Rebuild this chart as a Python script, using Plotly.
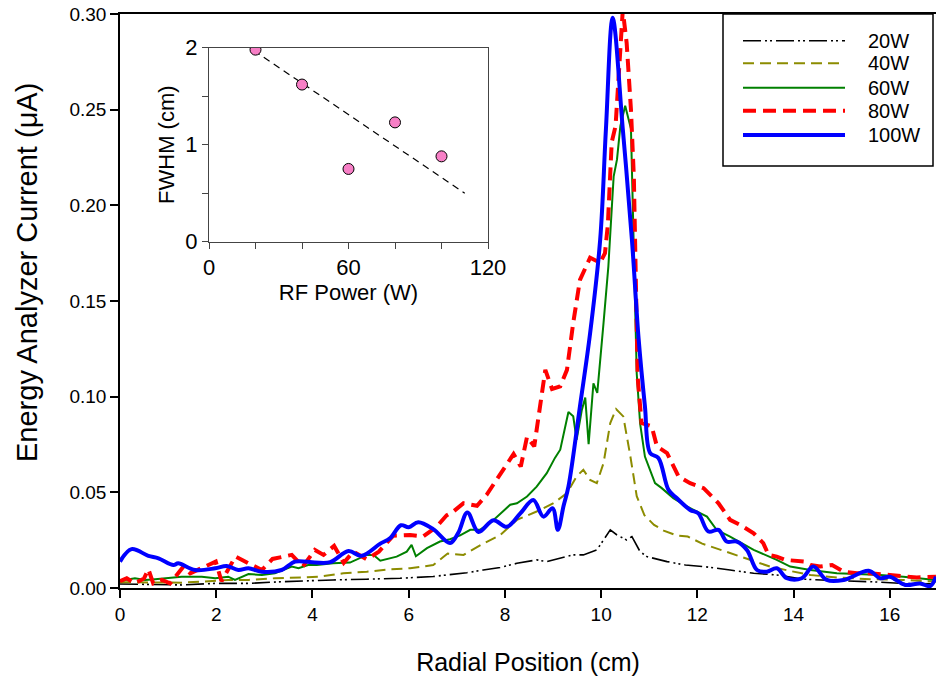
import plotly.graph_objects as go

# ---------------- data ----------------
x_20w = [0, 1.28, 1.98, 2.67, 3.36, 4.05, 4.43, 5.13, 5.82, 6.51, 7.21, 7.55, 7.9, 8.25, 8.66, 8.87, 9.42, 9.63,
         9.91, 10.05, 10.19, 10.33, 10.53, 10.64, 10.81, 10.95, 11.37, 11.75, 12.13, 12.68, 13.17, 13.65, 14.21,
         14.9, 15.59, 16.28, 16.96]
y_20w = [0.0021, 0.0016, 0.0024, 0.0024, 0.0033, 0.004, 0.0042, 0.0046, 0.0051, 0.006, 0.008, 0.0094, 0.0107,
         0.0129, 0.0147, 0.0138, 0.0173, 0.0173, 0.0199, 0.0251, 0.0304, 0.0277, 0.0251, 0.0269, 0.019, 0.0164,
         0.0138, 0.012, 0.0112, 0.0094, 0.0077, 0.0068, 0.0046, 0.0038, 0.0033, 0.0024, 0.0021]

x_40w = [0, 0.5, 1.28, 1.7, 2.25, 2.67, 3.22, 3.78, 4.16, 4.64, 5.13, 5.61, 6.03, 6.51, 6.81, 7.14, 7.52, 7.9,
         8.25, 8.66, 9.01, 9.29, 9.49, 9.63, 9.77, 9.91, 10.05, 10.19, 10.31, 10.46, 10.6, 10.74, 10.9, 11.1,
         11.3, 11.57, 11.8, 12.1, 12.61, 13.03, 13.51, 13.93, 14.35, 14.9, 15.59, 16.28, 16.96]
y_40w = [0.003, 0.0028, 0.0028, 0.0033, 0.0042, 0.0042, 0.0051, 0.0055, 0.006, 0.0077, 0.0085, 0.0098, 0.0103,
         0.012, 0.018, 0.0173, 0.0228, 0.0276, 0.0356, 0.04, 0.0443, 0.0496, 0.0583, 0.0618, 0.0565, 0.0548,
         0.0653, 0.0862, 0.0935, 0.0897, 0.07, 0.048, 0.038, 0.033, 0.03, 0.0275, 0.0269, 0.0232, 0.019, 0.0155,
         0.0112, 0.0089, 0.0068, 0.0055, 0.0046, 0.0042, 0.0033]

x_60w = [0, 0.1, 0.31, 0.52, 0.73, 1.0, 1.28, 1.7, 1.98, 2.25, 2.39, 2.67, 2.95, 3.22, 3.57, 3.71, 3.91, 4.09,
         4.43, 4.78, 5.13, 5.27, 5.41, 5.75, 5.96, 6.06, 6.15, 6.38, 6.65, 6.86, 7.07, 7.28, 7.48, 7.69, 7.9,
         8.11, 8.25, 8.46, 8.66, 8.87, 9.04, 9.15, 9.32, 9.42, 9.49, 9.6, 9.67, 9.74, 9.84, 9.92, 10.05, 10.15,
         10.26, 10.33, 10.4, 10.5, 10.62, 10.67, 10.74, 10.81, 10.91, 11.12, 11.26, 11.5, 11.78, 12.2, 12.4,
         12.68, 13.17, 13.65, 13.93, 14.35, 14.9, 15.32, 15.8, 16.28, 16.63, 16.96]
y_60w = [0.0035, 0.0042, 0.0051, 0.0042, 0.0046, 0.0051, 0.0059, 0.0059, 0.0051, 0.0059, 0.0042, 0.0073, 0.0068,
         0.0077, 0.0112, 0.0103, 0.012, 0.012, 0.0129, 0.0133, 0.0173, 0.0173, 0.0143, 0.0164, 0.019, 0.0225,
         0.0166, 0.0208, 0.0243, 0.0255, 0.0275, 0.0304, 0.0304, 0.0339, 0.0386, 0.0435, 0.0443, 0.0478, 0.053,
         0.06, 0.068, 0.0723, 0.092, 0.0897, 0.0775, 0.0932, 0.0995, 0.0752, 0.107, 0.102, 0.1386, 0.168, 0.215,
         0.224, 0.2415, 0.252, 0.24, 0.18, 0.112, 0.086, 0.0687, 0.0548, 0.0522, 0.047, 0.0426, 0.0373, 0.0304,
         0.0269, 0.0199, 0.0147, 0.0112, 0.0094, 0.0077, 0.0073, 0.0068, 0.0059, 0.0051, 0.0042]

x_80w = [0, 0.14, 0.31, 0.5, 0.59, 0.69, 0.87, 1.04, 1.18, 1.32, 1.46, 1.72, 1.99, 2.11, 2.4, 2.7, 2.95, 3.17,
         3.57, 3.8, 4.05, 4.23, 4.45, 4.65, 4.85, 5.13, 5.38, 5.68, 6.03, 6.3, 6.58, 6.79, 6.93, 7.14, 7.42, 7.62,
         7.83, 8.04, 8.18, 8.33, 8.46, 8.61, 8.73, 8.84, 8.98, 9.15, 9.29, 9.42, 9.56, 9.77, 9.98, 10.08, 10.14,
         10.22, 10.3, 10.37, 10.45, 10.53, 10.62, 10.68, 10.72, 10.76, 10.84, 11.05, 11.16, 11.37, 11.61, 11.85,
         12.13, 12.44, 12.68, 12.89, 13.17, 13.37, 13.48, 13.65, 13.83, 14.21, 14.35, 14.55, 14.8, 15.04, 15.32,
         15.59, 16.0, 16.28, 16.56, 16.96]
y_80w = [0.0035, 0.0051, 0.0024, 0.005, 0.0098, 0.0024, 0.0042, 0.0024, 0.0068, 0.0112, 0.0077, 0.0108, 0.0138,
         0.0035, 0.0165, 0.0125, 0.0094, 0.0152, 0.0173, 0.0112, 0.0199, 0.0173, 0.022, 0.0132, 0.019, 0.015,
         0.019, 0.0273, 0.0277, 0.0269, 0.032, 0.038, 0.04, 0.0443, 0.043, 0.0487, 0.0565, 0.064, 0.07, 0.0635,
         0.079, 0.074, 0.095, 0.114, 0.104, 0.1054, 0.114, 0.1386, 0.161, 0.1726, 0.17, 0.175, 0.19, 0.233,
         0.2415, 0.268, 0.302, 0.285, 0.25, 0.215, 0.15, 0.11, 0.0862, 0.0845, 0.074, 0.0705, 0.0583, 0.0548,
         0.0522, 0.0443, 0.0356, 0.033, 0.0286, 0.0234, 0.0173, 0.0164, 0.0147, 0.0138, 0.012, 0.0112, 0.012,
         0.0085, 0.0077, 0.0077, 0.0068, 0.0059, 0.0055, 0.0059]

x_100w = [0, 0.24, 0.59, 0.8, 1.11, 1.21, 1.56, 1.98, 2.22, 2.46, 2.67, 2.94, 3.36, 3.64, 4.05, 4.37, 4.75, 5.02,
          5.41, 5.61, 5.84, 6.0, 6.2, 6.51, 6.86, 7.03, 7.22, 7.45, 7.76, 8.04, 8.32, 8.59, 8.8, 8.99, 9.1, 9.22,
          9.32, 9.56, 9.77, 9.98, 10.1, 10.24, 10.45, 10.64, 10.78, 10.91, 11.02, 11.19, 11.4, 11.57, 11.85,
          12.02, 12.23, 12.44, 12.61, 12.82, 13.03, 13.24, 13.44, 13.65, 13.86, 14.17, 14.41, 14.69, 15.04,
          15.56, 15.8, 16.0, 16.32, 16.63, 16.84, 16.96]
y_100w = [0.0138, 0.0203, 0.0168, 0.0155, 0.012, 0.0129, 0.0094, 0.0103, 0.0115, 0.0094, 0.0103, 0.0085, 0.0094,
          0.0138, 0.0133, 0.0135, 0.0193, 0.0168, 0.0232, 0.026, 0.0328, 0.0318, 0.0344, 0.0308, 0.0235, 0.0288,
          0.0395, 0.0293, 0.0354, 0.032, 0.039, 0.046, 0.0373, 0.0417, 0.0304, 0.043, 0.053, 0.095, 0.133, 0.182,
          0.24, 0.298, 0.24, 0.182, 0.13, 0.095, 0.0705, 0.068, 0.0513, 0.047, 0.0408, 0.039, 0.0295, 0.0304,
          0.0243, 0.0243, 0.0199, 0.0094, 0.0085, 0.0103, 0.0051, 0.0051, 0.0112, 0.0042, 0.0042, 0.009, 0.0051,
          0.0059, 0.0016, 0.0024, 0.001, 0.0059]

series_names = ["20W", "40W", "60W", "80W", "100W"]

# inset: FWHM vs RF power
rf_power = [20, 40, 60, 80, 100]
fwhm = [1.98, 1.62, 0.75, 1.23, 0.88]
fit_x = [15, 110]
fit_y = [2.04, 0.5]

main_xticks = [0, 2, 4, 6, 8, 10, 12, 14, 16]
inset_xticks = [0, 20, 40, 60, 80, 100, 120]
inset_xlabels = ["0", "", "", "60", "", "", "120"]
inset_yticks = [0, 0.5, 1, 1.5, 2]
inset_ylabels = ["0", "", "1", "", "2"]

# ---------------- styling ----------------
FONT = "Liberation Sans, Arial, sans-serif"
styles = {
    "20W": dict(color="black", width=1.6, dash="18px,4px,2px,3px,2px,4px"),
    "40W": dict(color="#8c8c00", width=2, dash="11px,6px"),
    "60W": dict(color="#008000", width=2),
    "80W": dict(color="#ff0000", width=4, dash="13px,7px"),
    "100W": dict(color="#0000ff", width=4),
}
xs = [x_20w, x_40w, x_60w, x_80w, x_100w]
ys = [y_20w, y_40w, y_60w, y_80w, y_100w]

fig = go.Figure()
for name, xv, yv in zip(series_names, xs, ys):
    shape = "spline" if name == "100W" else "linear"
    fig.add_trace(go.Scatter(x=xv, y=yv, mode="lines", name=name, line=dict(shape=shape, **styles[name]),
                             xaxis="x", yaxis="y", showlegend=False))

fig.add_trace(go.Scatter(x=fit_x, y=fit_y, mode="lines", line=dict(color="black", width=1.2, dash="7px,5px"),
                         xaxis="x2", yaxis="y2", showlegend=False))
fig.add_trace(go.Scatter(x=rf_power, y=fwhm, mode="markers",
                         marker=dict(size=11, color="#f77fc6", line=dict(color="black", width=1)),
                         xaxis="x2", yaxis="y2", showlegend=False))

# paper-coordinate helpers (plot area: 120..936 px horizontally, 14..588 px vertically)
W, H = 936, 683
L, R, T, B = 120, 0, 14, 95
pw, ph = W - L - R, H - T - B


def px(xp):
    return (xp - L) / pw


def py(yp):
    return (H - B - yp) / ph


# custom legend box
shapes = [dict(type="rect", xref="paper", yref="paper", x0=px(723), x1=px(933), y0=py(166), y1=py(14),
               line=dict(color="black", width=1.5), fillcolor="white", layer="above")]
annotations = []
rows = [40.7, 63.3, 87.7, 110.7, 135]
for name, ry in zip(series_names, rows):
    st = styles[name]
    shapes.append(dict(type="line", xref="paper", yref="paper", x0=px(743), x1=px(845), y0=py(ry), y1=py(ry),
                       line=dict(color=st["color"], width=st["width"], dash=st.get("dash", "solid")),
                       layer="above"))
    annotations.append(dict(xref="paper", yref="paper", x=px(866), y=py(ry), text=name, showarrow=False,
                            xanchor="left", yanchor="middle", font=dict(family=FONT, size=20, color="black")))

# main y-axis title (placed as in the reference, slightly above the axis centre)
annotations.append(dict(xref="paper", yref="paper", x=px(27), y=py(273), text="Energy Analyzer Current (μA)",
                        textangle=-90, showarrow=False, xanchor="center", yanchor="middle",
                        font=dict(family=FONT, size=29, color="black")))

fig.update_layout(
    width=W, height=H, autosize=False,
    margin=dict(l=L, r=R, t=T, b=B),
    paper_bgcolor="white", plot_bgcolor="white",
    font=dict(family=FONT, color="black"),
    shapes=shapes, annotations=annotations,
    xaxis=dict(range=[0, 16.96], tickvals=main_xticks, ticks="outside", ticklen=8, tickwidth=1.5,
               tickcolor="black", showline=True, linecolor="black", linewidth=1.5, mirror=True,
               showgrid=False, zeroline=False, tickfont=dict(size=19), automargin=False,
               title=dict(text="Radial Position (cm)", font=dict(size=25), standoff=30)),
    yaxis=dict(range=[0, 0.30], dtick=0.05, tickformat=".2f", ticks="outside", ticklen=8, tickwidth=1.5,
               tickcolor="black", showline=True, linecolor="black", linewidth=1.5, automargin=False,
               showgrid=False, zeroline=False, tickfont=dict(size=19)),
    xaxis2=dict(domain=[px(209), px(488)], anchor="y2", range=[0, 120], tickvals=inset_xticks,
                ticktext=inset_xlabels, ticks="outside", ticklen=6, tickcolor="#444", showline=True,
                linecolor="#444", linewidth=1, mirror=True, showgrid=False, zeroline=False, automargin=False,
                tickfont=dict(size=22), title=dict(text="RF Power (W)", font=dict(size=22), standoff=4)),
    yaxis2=dict(domain=[py(241.7), py(47.7)], anchor="x2", range=[0, 2], tickvals=inset_yticks,
                ticktext=inset_ylabels, ticks="outside", ticklen=6, tickcolor="#444", showline=True,
                linecolor="#444", linewidth=1, mirror=True, showgrid=False, zeroline=False, automargin=False,
                tickfont=dict(size=22), title=dict(text="FWHM (cm)", font=dict(size=22), standoff=4)),
)

fig.write_html("out.html", config={"responsive": False, "displayModeBar": False},
               post_script="document.body.style.margin='0';document.body.style.overflow='hidden';")
